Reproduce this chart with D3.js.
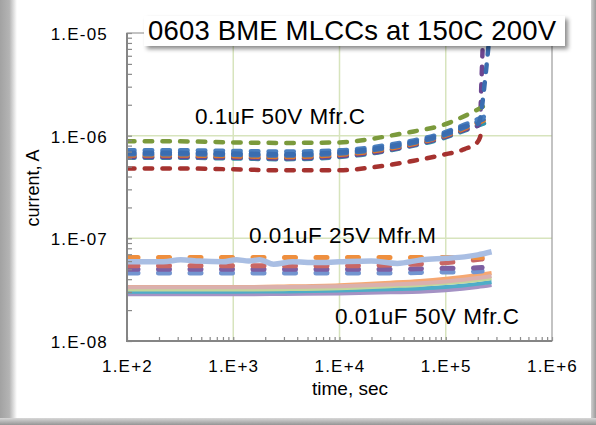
<!DOCTYPE html>
<html><head><meta charset="utf-8">
<script src="https://cdn.jsdelivr.net/npm/d3@7"></script>
<style>body{margin:0;background:#fff}svg{display:block}</style>
</head><body><div id="chart"></div>
<script>
// ---------- data ----------
const title = "0603 BME MLCCs at 150C 200V";
const xLabel = "time, sec";
const yLabel = "current, A";
const xMajorTicks = [1e2, 1e3, 1e4, 1e5, 1e6];
const yMajorTicks = [1e-8, 1e-7, 1e-6, 1e-5];
const groupLabels = ["0.1uF 50V Mfr.C", "0.01uF 25V Mfr.M", "0.01uF 50V Mfr.C"];

// 0.1uF 50V Mfr.C (dashed)
const tA = [100, 300, 1000, 3000, 10000, 20000, 30000, 50000, 94000, 150000, 200000, 270000];
const aGreen  = [8.8e-7, 8.8e-7, 8.6e-7, 8.5e-7, 8.6e-7, 9.3e-7, 1.0e-6, 1.1e-6, 1.27e-6, 1.55e-6, 1.8e-6, 2.15e-6];
const aBlueB  = [7.2e-7, 7.2e-7, 7.1e-7, 7.0e-7, 7.2e-7, 7.7e-7, 8.2e-7, 9.0e-7, 1.06e-6, 1.28e-6, 1.45e-6, 1.62e-6];
const aBlueA  = [6.6e-7, 6.6e-7, 6.5e-7, 6.4e-7, 6.7e-7, 7.2e-7, 7.7e-7, 8.5e-7, 1.0e-6, 1.2e-6, 1.37e-6, 1.55e-6];
const aOrange = [6.4e-7, 6.4e-7, 6.3e-7, 6.2e-7, 6.5e-7, 7.0e-7, 7.5e-7, 8.3e-7, 9.8e-7, 1.17e-6, 1.33e-6, 1.5e-6];
const aTeal   = [6.1e-7, 6.1e-7, 6.0e-7, 5.9e-7, 6.2e-7, 6.7e-7, 7.2e-7, 8.0e-7, 9.4e-7, 1.12e-6, 1.25e-6, 1.4e-6];
const tAPurple = [100, 300, 1000, 3000, 10000, 20000, 30000, 50000, 94000, 150000, 200000, 210000, 216000, 222000];
const aPurple  = [6.2e-7, 6.2e-7, 6.1e-7, 6.0e-7, 6.3e-7, 6.8e-7, 7.3e-7, 8.1e-7, 9.6e-7, 1.14e-6, 1.25e-6, 1.35e-6, 3.0e-6, 6.8e-6];
const tAShoot  = [100, 300, 1000, 3000, 10000, 20000, 30000, 50000, 94000, 150000, 200000, 212000, 228000, 244000, 260000, 270000];
const aShoot   = [6.8e-7, 6.8e-7, 6.7e-7, 6.6e-7, 6.9e-7, 7.4e-7, 7.9e-7, 8.7e-7, 1.03e-6, 1.23e-6, 1.3e-6, 1.5e-6, 2.7e-6, 5.2e-6, 1.0e-5, 1.3e-5];
const tARed = [100, 300, 1000, 3000, 10000, 20000, 30000, 50000, 94000, 150000, 196000, 210000, 216000];
const aRed  = [4.8e-7, 4.8e-7, 4.7e-7, 4.6e-7, 4.6e-7, 4.9e-7, 5.2e-7, 5.7e-7, 6.5e-7, 7.4e-7, 8.5e-7, 9.6e-7, 1.1e-6];

// 0.01uF 25V Mfr.M (dashed + one solid)
const tB = [100, 1000, 10000, 30000, 100000, 150000, 220000];
const bOrange = [6.5e-8, 6.5e-8, 6.5e-8, 6.5e-8, 6.5e-8, 6.5e-8, 6.5e-8];
const bRed    = [5.4e-8, 5.4e-8, 5.4e-8, 5.5e-8, 5.8e-8, 6.0e-8, 6.3e-8];
const bPurple = [5.0e-8, 5.0e-8, 5.0e-8, 5.0e-8, 5.1e-8, 5.1e-8, 5.2e-8];
const bBlue   = [4.6e-8, 4.6e-8, 4.6e-8, 4.6e-8, 4.7e-8, 4.7e-8, 4.8e-8];
const tBSolid = [100, 220, 320, 480, 800, 1070, 1400, 1780, 2400, 3600, 6000, 10000, 20000, 35000, 60000, 100000, 150000, 200000, 270000];
const bSolid  = [5.9e-8, 5.9e-8, 6.2e-8, 6.0e-8, 5.9e-8, 6.2e-8, 6.0e-8, 6.2e-8, 5.6e-8, 5.9e-8, 5.8e-8, 5.9e-8, 6.0e-8, 5.7e-8, 6.2e-8, 6.4e-8, 6.6e-8, 6.9e-8, 7.4e-8];

// 0.01uF 50V Mfr.C (solid)
const tC = [100, 1000, 3000, 10000, 30000, 57000, 100000, 200000, 270000];
const cOrange   = [3.35e-8, 3.35e-8, 3.4e-8, 3.5e-8, 3.7e-8, 3.85e-8, 4.05e-8, 4.4e-8, 4.6e-8];
const cPink     = [3.33e-8, 3.33e-8, 3.35e-8, 3.42e-8, 3.55e-8, 3.65e-8, 3.8e-8, 4.1e-8, 4.3e-8];
const cGreen    = [3.15e-8, 3.15e-8, 3.18e-8, 3.25e-8, 3.4e-8, 3.5e-8, 3.65e-8, 3.9e-8, 4.05e-8];
const cTeal     = [3.02e-8, 3.02e-8, 3.04e-8, 3.1e-8, 3.2e-8, 3.25e-8, 3.35e-8, 3.6e-8, 3.75e-8];
const cLavender = [2.85e-8, 2.85e-8, 2.87e-8, 2.9e-8, 2.98e-8, 3.02e-8, 3.12e-8, 3.35e-8, 3.5e-8];

// ---------- series (built from arrays) ----------
const zip = (t, v) => t.map((d, i) => ({t: d, v: v[i]}));
const dashA = "7.5,10.2", dashB = "11,20.5";
const series = [
  {pts: zip(tC, cLavender), color: "#a492c4", w: 4},
  {pts: zip(tC, cTeal), color: "#4eadc8", w: 4},
  {pts: zip(tC, cGreen), color: "#c3d69b", w: 3.5},
  {pts: zip(tC, cOrange), color: "#f6a872", w: 4},
  {pts: zip(tC, cPink), color: "#dab0ae", w: 4},
  {pts: zip(tB, bBlue), color: "#7395d0", w: 5, dash: dashB, cap: "round"},
  {pts: zip(tB, bPurple), color: "#7d5fa2", w: 5, dash: dashB, cap: "round"},
  {pts: zip(tB, bRed), color: "#c96765", w: 5, dash: dashB, cap: "round"},
  {pts: zip(tB, bOrange), color: "#ef8f3e", w: 5, dash: dashB, cap: "round"},
  {pts: zip(tBSolid, bSolid), color: "#a9bee3", w: 5.5},
  {pts: zip(tARed, aRed), color: "#a5322f", w: 4.5, dash: dashA, cap: "round"},
  {pts: zip(tA, aTeal), color: "#2f93ad", w: 4.5, dash: dashA, cap: "round"},
  {pts: zip(tAPurple, aPurple), color: "#6c4690", w: 4.5, dash: dashA, cap: "round"},
  {pts: zip(tA, aOrange), color: "#e07a28", w: 4.5, dash: dashA, cap: "round"},
  {pts: zip(tA, aBlueA), color: "#3f73b6", w: 4.5, dash: dashA, cap: "round"},
  {pts: zip(tA, aBlueB), color: "#4a7fbf", w: 4.5, dash: dashA, cap: "round"},
  {pts: zip(tA, aGreen), color: "#7b9a3c", w: 4.5, dash: dashA, cap: "round"},
  {pts: zip(tAShoot, aShoot), color: "#3a6db0", w: 4.5, dash: dashA, cap: "round"}
];

// ---------- chart ----------
const W = 596, H = 425;
const FONT = "'Liberation Sans', Arial, sans-serif";
const svg = d3.select("#chart").append("svg").attr("width", W).attr("height", H)
  .style("font-family", FONT);
const defs = svg.append("defs");

const gl = defs.append("linearGradient").attr("id", "gl").attr("x1", 0).attr("x2", 1).attr("y1", 0).attr("y2", 0);
gl.append("stop").attr("offset", 0).attr("stop-color", "#a2a2a2");
gl.append("stop").attr("offset", 0.55).attr("stop-color", "#b4b4b4");
gl.append("stop").attr("offset", 1).attr("stop-color", "#ffffff");
const gb = defs.append("linearGradient").attr("id", "gb").attr("x1", 0).attr("x2", 0).attr("y1", 0).attr("y2", 1);
gb.append("stop").attr("offset", 0).attr("stop-color", "#d8d8d8");
gb.append("stop").attr("offset", 1).attr("stop-color", "#959595");
const gr = defs.append("linearGradient").attr("id", "gr").attr("x1", 0).attr("x2", 1).attr("y1", 0).attr("y2", 0);
gr.append("stop").attr("offset", 0).attr("stop-color", "#d0d0d0");
gr.append("stop").attr("offset", 1).attr("stop-color", "#9a9a9a");

svg.append("rect").attr("width", W).attr("height", H).attr("fill", "#fff");
svg.append("rect").attr("x", 0).attr("y", 0).attr("width", 17).attr("height", H).attr("fill", "url(#gl)");
svg.append("rect").attr("x", 591).attr("y", 0).attr("width", 5).attr("height", H).attr("fill", "url(#gr)");
svg.append("rect").attr("x", 0).attr("y", 418).attr("width", W).attr("height", 7).attr("fill", "url(#gb)");

const x = d3.scaleLog().domain([1e2, 1e6]).range([127, 552]);
const y = d3.scaleLog().domain([1e-8, 1e-5]).range([341, 33]);

const grid = svg.append("g").attr("stroke", "#d7e4bd").attr("stroke-width", 1.5);
grid.selectAll(".gx").data(xMajorTicks.slice(1, -1)).join("line")
  .attr("x1", d => x(d)).attr("x2", d => x(d)).attr("y1", y(1e-5)).attr("y2", y(1e-8));
grid.selectAll(".gy").data(yMajorTicks.slice(1, -1)).join("line")
  .attr("y1", d => y(d)).attr("y2", d => y(d)).attr("x1", x(1e2)).attr("x2", x(1e6));

defs.append("clipPath").attr("id", "plotclip").append("rect")
  .attr("x", 127).attr("y", 33).attr("width", 425).attr("height", 308);
const line = d3.line().x(d => x(d.t)).y(d => y(d.v)).curve(d3.curveMonotoneX);
const sg = svg.append("g").attr("clip-path", "url(#plotclip)");
sg.selectAll("path").data(series).join("path")
  .attr("d", d => line(d.pts))
  .attr("fill", "none")
  .attr("stroke", d => d.color)
  .attr("stroke-width", d => d.w)
  .attr("stroke-dasharray", d => d.dash || null)
  .attr("stroke-linecap", d => d.cap || "butt")
  .attr("stroke-linejoin", "round");

const minorX = [];
for (let e = 2; e < 6; e++) for (let k = 1; k < 10; k++) minorX.push(k * Math.pow(10, e));
minorX.push(1e6);
const minorY = [];
for (let e = -8; e < -5; e++) for (let k = 1; k < 10; k++) minorY.push(+(k * Math.pow(10, e)).toPrecision(3));
minorY.push(1e-5);
const isMajor = v => Math.abs(Math.log10(v) - Math.round(Math.log10(v))) < 1e-6;
const fmtY = v => { const e = Math.round(Math.log10(v)); return "1.E" + (e < 0 ? "-" : "+") + String(Math.abs(e)).padStart(2, "0"); };
const fmtX = v => { const e = Math.round(Math.log10(v)); return "1.E+" + e; };

const gx = svg.append("g").attr("transform", "translate(0,341)")
  .call(d3.axisBottom(x).tickValues(minorX).tickSize(-4).tickPadding(0)
    .tickFormat(v => isMajor(v) ? fmtX(v) : ""));
const gy = svg.append("g").attr("transform", "translate(127,0)")
  .call(d3.axisLeft(y).tickValues(minorY).tickSize(-5).tickPadding(19)
    .tickFormat(v => isMajor(v) ? fmtY(v) : ""));
[gx, gy].forEach(g => {
  g.select(".domain").remove();
  g.selectAll(".tick line").attr("stroke", "#8a8a8a").attr("stroke-width", 1.2);
  g.selectAll(".tick text").attr("fill", "#000").style("font-size", "17px")
    .style("letter-spacing", "1.2px").style("font-family", FONT);
});
gx.selectAll(".tick text").attr("y", 31).attr("dy", 0);
gy.selectAll(".tick text").attr("dy", "0.38em");

svg.append("rect").attr("x", 127).attr("y", 33).attr("width", 425).attr("height", 308)
  .attr("fill", "none").attr("stroke", "#9c9c9c").attr("stroke-width", 1.2);
svg.append("line").attr("x1", 127).attr("x2", 127).attr("y1", 33).attr("y2", 342)
  .attr("stroke", "#858585").attr("stroke-width", 2);
svg.append("line").attr("x1", 126).attr("x2", 552).attr("y1", 341).attr("y2", 341)
  .attr("stroke", "#858585").attr("stroke-width", 2);

svg.append("text").attr("transform", "translate(39,188) rotate(-90)")
  .attr("text-anchor", "middle").style("font-size", "18px").text(yLabel);
svg.append("text").attr("x", 350).attr("y", 395)
  .attr("text-anchor", "middle").style("font-size", "19px").text(xLabel);

const ann = [
  {x: 195, y: 124, w: 170},
  {x: 249, y: 243, w: 187},
  {x: 335, y: 324, w: 184}
];
svg.selectAll(".ann").data(groupLabels).join("text")
  .attr("x", (d, i) => ann[i].x).attr("y", (d, i) => ann[i].y)
  .attr("textLength", (d, i) => ann[i].w).attr("lengthAdjust", "spacing")
  .style("font-size", "22.5px").text(d => d);

const f = defs.append("filter").attr("id", "sh").attr("x", "-10%").attr("y", "-30%").attr("width", "130%").attr("height", "180%");
f.append("feDropShadow").attr("dx", 3).attr("dy", 3).attr("stdDeviation", 2)
  .attr("flood-color", "#000").attr("flood-opacity", 0.45);
svg.append("rect").attr("x", 144).attr("y", 16).attr("width", 421).attr("height", 30)
  .attr("fill", "#fff").attr("filter", "url(#sh)");
svg.append("text").attr("x", 148).attr("y", 39.5).attr("textLength", 408).attr("lengthAdjust", "spacing")
  .style("font-size", "27.5px").text(title);
</script></body></html>
